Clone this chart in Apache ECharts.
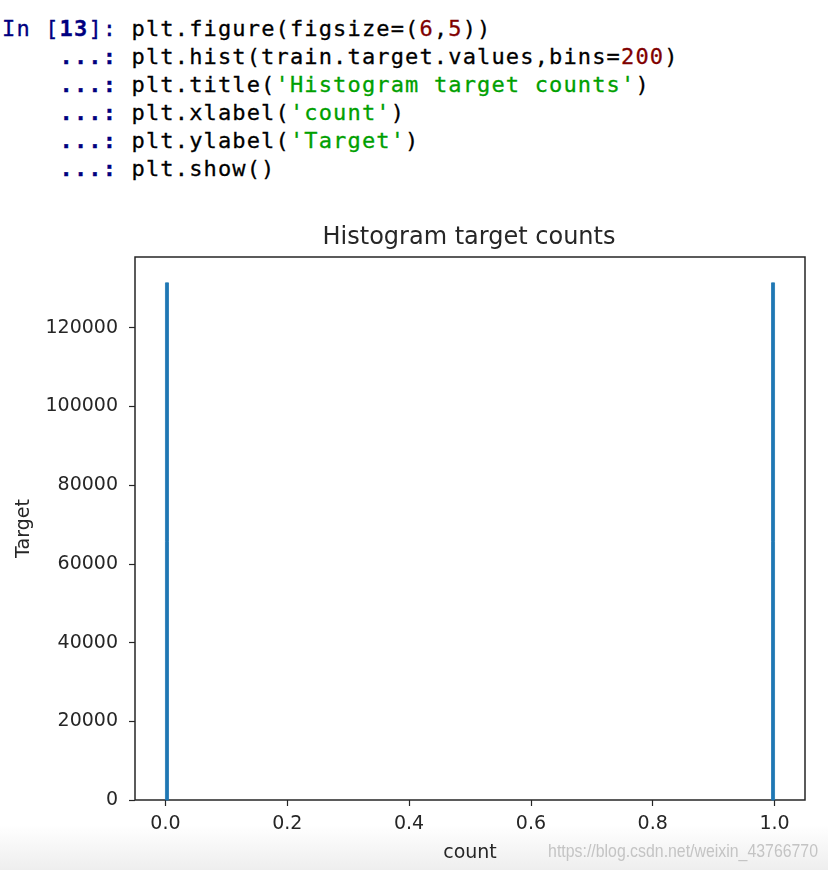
<!DOCTYPE html>
<html>
<head>
<meta charset="utf-8">
<script src="https://cdn.jsdelivr.net/npm/echarts@6/dist/echarts.min.js"></script>
<style>
html,body{margin:0;padding:0;background:#fff;width:828px;height:870px;overflow:hidden;}
#fade{position:absolute;left:0;top:825px;width:828px;height:45px;background:linear-gradient(#ffffff,#eeeeee);}
#code{position:absolute;left:2px;top:15px;margin:0;font-family:"DejaVu Sans Mono",monospace;font-size:22px;line-height:28px;letter-spacing:1.15px;color:#000;white-space:pre;-webkit-text-stroke:0.3px #000;}
.p{color:#000080;-webkit-text-stroke-color:#000080;}
.pb{color:#000080;font-weight:bold;-webkit-text-stroke-color:#000080;}
.n{color:#800000;-webkit-text-stroke-color:#800000;}
.s{color:#00a000;-webkit-text-stroke-color:#00a000;}
#chart{position:absolute;left:0;top:0;width:828px;height:870px;}
</style>
</head>
<body>
<div id="fade"></div>
<pre id="code"><span class="p">In [</span><span class="pb">13</span><span class="p">]: </span>plt.figure(figsize=(<span class="n">6</span>,<span class="n">5</span>))
<span class="pb">    ...:</span> plt.hist(train.target.values,bins=<span class="n">200</span>)
<span class="pb">    ...:</span> plt.title(<span class="s">'Histogram target counts'</span>)
<span class="pb">    ...:</span> plt.xlabel(<span class="s">'count'</span>)
<span class="pb">    ...:</span> plt.ylabel(<span class="s">'Target'</span>)
<span class="pb">    ...:</span> plt.show()</pre>
<div id="chart"></div>
<script>
// Histogram data (non-empty bins of 200 bins over [0,1])
const binStarts = [0.0, 0.995];
const binEnds = [0.005, 1.0];
const counts = [131400, 131400];
const xTicks = [0.0, 0.2, 0.4, 0.6, 0.8, 1.0];
const yTicks = [0, 20000, 40000, 60000, 80000, 100000, 120000];
const titleText = 'Histogram target counts';
const xLabel = 'count';
const yLabel = 'Target';
const watermark = 'https://blog.csdn.net/weixin_43766770';

const data = binStarts.map((s, i) => [s, binEnds[i], counts[i]]);
const maxCount = Math.max(...counts);

const chart = echarts.init(document.getElementById('chart'), null, {renderer: 'canvas'});
const txt = '#262626';
const font = 'DejaVu Sans';
chart.setOption({
  backgroundColor: 'transparent',
  animation: false,
  title: {
    text: titleText, left: 464, top: 221, textAlign: 'center',
    textStyle: {fontFamily: font, fontSize: 24, fontWeight: 'normal', color: txt}
  },
  grid: {left: 135, top: 257, right: 23, bottom: 70, show: true, borderColor: txt, borderWidth: 1.5, backgroundColor: 'transparent'},
  xAxis: {
    type: 'value', min: -0.05, max: 1.05,
    name: xLabel, nameLocation: 'middle', nameGap: 44,
    nameTextStyle: {fontFamily: font, fontSize: 19, color: txt},
    axisLine: {show: false, onZero: false},
    splitLine: {show: false},
    axisTick: {show: true, inside: false, length: 6, lineStyle: {color: txt, width: 1.2}, customValues: xTicks},
    axisLabel: {customValues: xTicks, margin: 15, fontFamily: font, fontSize: 19, color: txt, formatter: v => v.toFixed(1)}
  },
  yAxis: {
    type: 'value', min: 0, max: maxCount * 1.05,
    name: yLabel, nameLocation: 'middle', nameGap: 101, nameRotate: 90,
    nameTextStyle: {fontFamily: font, fontSize: 19, color: txt},
    axisLine: {show: false, onZero: false},
    splitLine: {show: false},
    axisTick: {show: true, inside: false, length: 6, lineStyle: {color: txt, width: 1.2}, customValues: yTicks},
    axisLabel: {customValues: yTicks, margin: 17, fontFamily: font, fontSize: 19, color: txt, formatter: v => String(v)}
  },
  series: [{
    type: 'custom',
    data: data,
    encode: {x: [0, 1], y: 2},
    renderItem: function (params, api) {
      const p0 = api.coord([api.value(0), api.value(2)]);
      const p1 = api.coord([api.value(1), 0]);
      return {
        type: 'rect',
        shape: {x: p0[0], y: p0[1], width: Math.max(p1[0] - p0[0], 1), height: p1[1] - p0[1]},
        style: {fill: '#1f77b4', stroke: '#1f77b4', lineWidth: 0.8}
      };
    }
  }],
  graphic: [{
    type: 'text', right: 10, top: 842, scaleX: 0.835, originX: 818,
    style: {text: watermark, fontFamily: 'Liberation Sans', fontSize: 19, fill: '#c4c4c4'}
  }]
});
</script>
</body>
</html>
